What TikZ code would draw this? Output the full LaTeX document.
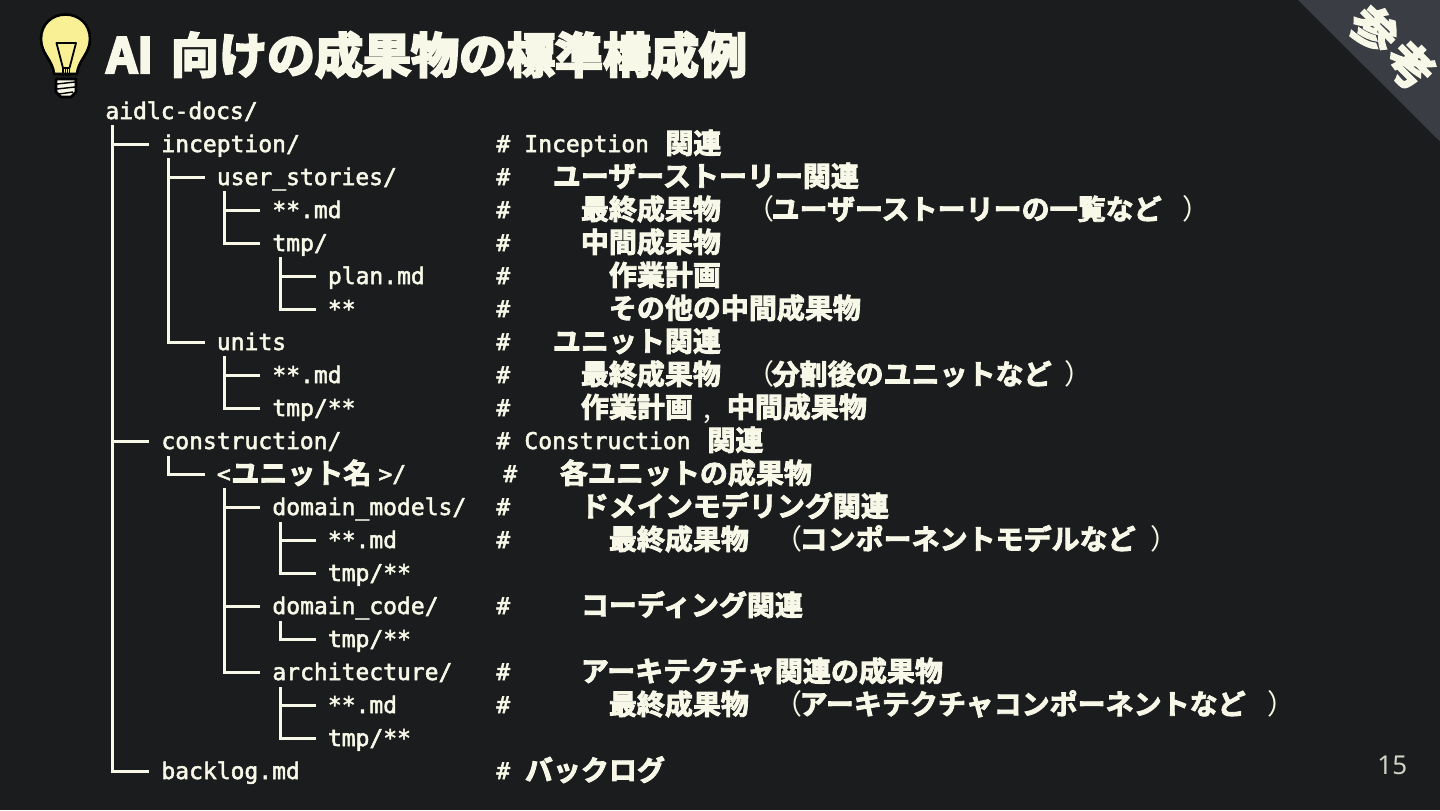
\documentclass[tikz,border=0pt]{standalone}
\usepackage{fontspec}
\setmonofont[FakeBold=2.2]{DejaVu Sans Mono}
\newfontfamily\cjkfat[FakeBold=3.0]{Noto Sans CJK JP Bold}
\newfontfamily\cjktitle[FakeBold=5.0]{Noto Sans CJK JP Bold}
\newfontfamily\cjkband[FakeBold=4.0]{Noto Sans CJK JP Bold}
\newfontfamily\cjkthin{Noto Sans CJK JP}
\newfontfamily\numfont{Noto Sans}
\definecolor{bgc}{HTML}{1A1C1E}
\definecolor{txt}{HTML}{F8F8E8}
\definecolor{band}{HTML}{3A3D44}
\definecolor{bulb}{HTML}{F9EF95}
\newcommand{\mon}{\fontsize{11.5pt}{13pt}\ttfamily}
\newcommand{\jp}{\fontsize{14pt}{16pt}\cjkfat}
\newcommand{\sk}[1]{\hspace{#1pt}}
\newcommand{\lpar}{{\cjkthin （}\hspace{-1.25pt}}
\newcommand{\rpar}{{\cjkthin ）}}
\tikzset{
 x=0.5pt,y=-0.5pt,
 lbl/.style={anchor=base west,inner sep=0pt,text=txt,text height=10.5pt,text depth=2.5pt},
 mono/.style={lbl,font=\mon},
 cj/.style={lbl,font=\jp},
 tree/.style={draw=txt,line width=1.5pt,line cap=butt,line join=miter},
 bulbline/.style={draw=black,line width=0.9pt,line join=round}
}
% row number to baseline
\newcommand{\rowy}[1]{\the\numexpr119+33*#1\relax}
\newcommand{\mt}[4]{\node[mono] (#1) at (#2,\rowy{#3}) {#4};}
\newcommand{\jt}[4]{\node[cj] (#1) at (#2,\rowy{#3}+1.5) {#4};}
% branch: vertical top coordinate x,y then to node #3
\newcommand{\branch}[3]{\coordinate (top#3) at (#1,#2); \draw[tree] (top#3) |- ([xshift=-6pt]#3.west);}
\begin{document}
\begin{tikzpicture}
\useasboundingbox (0,0) rectangle (1440,810);
\fill[bgc] (0,0) rectangle (1440,810);
\coordinate (ta) at (1298,0); \coordinate (tb) at (1440,0); \coordinate (tc) at (1440,141.5);
\fill[band] (ta) -- (tb) -- (tc) -- cycle;
\node[text=txt,inner sep=0pt,rotate=-45,font={\fontsize{23pt}{25pt}\cjkband}] (s1) at (1392.5,47.5) {参\hspace{2.5pt}考};
% bulb
\path[fill=bulb,bulbline,line width=1.3pt] (54,74) .. controls (53,60) and (41,54) .. (41,39) .. controls (41,24) and (52,14.5) .. (65.5,14.5) .. controls (79,14.5) and (90,24) .. (90,39) .. controls (90,54) and (78,60) .. (77,74) -- cycle;
\path[fill=bulb,bulbline] (56.5,43) -- (76,43) -- (69.5,68) -- (63,68) -- cycle;
\path[bulbline] (63,68) -- (63,76) (69.5,68) -- (69.5,76) (65.5,68) -- (65.5,76) (67.5,68) -- (67.5,76);
\path[fill=txt,bulbline,line width=1.3pt] (56,79) -- (76,79) -- (76,92) -- (71,97) -- (61,97) -- (56,92) -- cycle;
\path[draw=black,line width=0.7pt] (57,84) -- (75,82) (57,89) -- (75,87) (59,94) -- (73,92);
% title
\node[lbl,text height=24pt,text depth=6pt,font={\fontsize{24pt}{26pt}\cjktitle}] (title) at (106,73) {AI\sk{9}向けの成果物の標準構成例};
% tree labels
\mt{n0}{105}{0}{aidlc-docs/}
\mt{n1}{161}{1}{inception/}
\mt{n2}{216.5}{2}{user\_stories/}
\mt{n3}{272}{3}{**.md}
\mt{n4}{272}{4}{tmp/}
\mt{n5}{327.5}{5}{plan.md}
\mt{n6}{327.5}{6}{**}
\mt{n7}{216.5}{7}{units}
\mt{n8}{272}{8}{**.md}
\mt{n9}{272}{9}{tmp/**}
\mt{n10}{161}{10}{construction/}
\mt{n11}{216.5}{11}{<}
\jt{n11b}{231}{11}{ユニット名}
\mt{n11c}{378}{11}{>/}
\mt{n12}{272}{12}{domain\_models/}
\mt{n13}{327.5}{13}{**.md}
\mt{n14}{327.5}{14}{tmp/**}
\mt{n15}{272}{15}{domain\_code/}
\mt{n16}{327.5}{16}{tmp/**}
\mt{n17}{272}{17}{architecture/}
\mt{n18}{327.5}{18}{**.md}
\mt{n19}{327.5}{19}{tmp/**}
\mt{n20}{161}{20}{backlog.md}
% connectors
\branch{112}{125}{n1}
\branch{112}{125}{n10}
\branch{112}{125}{n20}
\branch{168}{158}{n2}
\branch{168}{158}{n7}
\branch{224}{191}{n3}
\branch{224}{191}{n4}
\branch{280}{257}{n5}
\branch{280}{257}{n6}
\branch{224}{356}{n8}
\branch{224}{356}{n9}
\branch{168}{456}{n11}
\branch{224}{488}{n12}
\branch{224}{488}{n15}
\branch{224}{488}{n17}
\branch{280}{522}{n13}
\branch{280}{522}{n14}
\branch{280}{621}{n16}
\branch{280}{687}{n18}
\branch{280}{687}{n19}
% hashes
\foreach \r in {1,2,3,4,5,6,7,8,9,10,12,13,15,17,18,20} {\node[mono] (h\r) at (496,\rowy{\r}) {\#};}
\node[mono] (h11) at (503,\rowy{11}) {\#};
% comments
\mt{c1}{524}{1}{Inception}
\jt{d1}{665}{1}{関連}
\jt{c2}{552.5}{2}{ユーザーストーリー関連}
\jt{c3}{580.5}{3}{最終成果物\sk{12.6}\lpar ユーザーストーリーの一覧など\sk{10.5}\rpar}
\jt{c4}{580.5}{4}{中間成果物}
\jt{c5}{608.5}{5}{作業計画}
\jt{c6}{608.5}{6}{その他の中間成果物}
\jt{c7}{552.5}{7}{ユニット関連}
\jt{c8}{580.5}{8}{最終成果物\sk{12.6}\lpar 分割後のユニットなど\sk{6.5}\rpar}
\jt{c9}{580.5}{9}{作業計画}
\node[lbl,font={\fontsize{14pt}{16pt}\cjkthin}] (c9b) at (703,\rowy{9}+2) {,};
\jt{c9c}{726.5}{9}{中間成果物}
\mt{c10}{524}{10}{Construction}
\jt{d10}{707}{10}{関連}
\jt{c11}{559.5}{11}{各ユニットの成果物}
\jt{c12}{580.5}{12}{ドメインモデリング関連}
\jt{c13}{608.5}{13}{最終成果物\sk{12.6}\lpar コンポーネントモデルなど\sk{7.5}\rpar}
\jt{c15}{580.5}{15}{コーディング関連}
\jt{c17}{580.5}{17}{アーキテクチャ関連の成果物}
\jt{c18}{608.5}{18}{最終成果物\sk{12.6}\lpar アーキテクチャコンポーネントなど\sk{11}\rpar}
\jt{c20}{524.5}{20}{バックログ}
% page number
\node[lbl,font={\fontsize{13pt}{15pt}\numfont},text=txt!85!black] (pg) at (1377,774) {15};
\end{tikzpicture}
\end{document}
